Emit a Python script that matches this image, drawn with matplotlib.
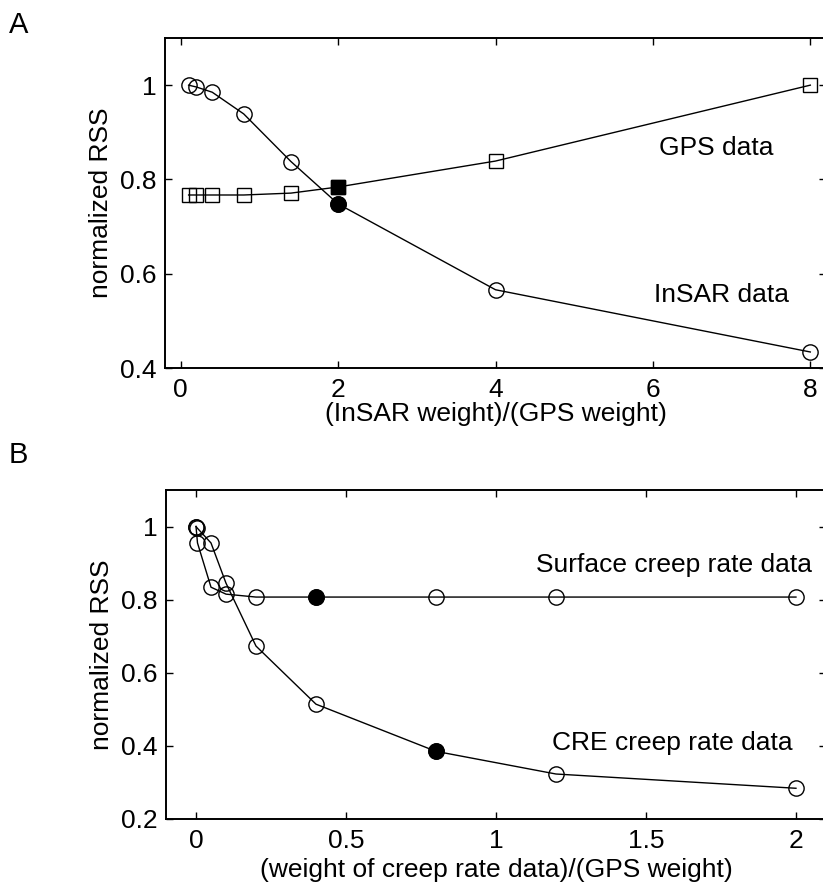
import matplotlib
matplotlib.use("Agg")
import matplotlib.pyplot as plt

plt.rcParams['font.family'] = ['Liberation Sans', 'DejaVu Sans']
plt.rcParams['font.size'] = 19

# panel A data
a_x = [0.1, 0.2, 0.4, 0.8, 1.4, 2, 4, 8]
a_insar = [1.0, 0.996, 0.985, 0.939, 0.838, 0.748, 0.566, 0.434]
a_gps = [0.767, 0.767, 0.767, 0.767, 0.771, 0.784, 0.839, 1.0]
a_pick = 2

# panel B data
b_x = [0, 0.005, 0.05, 0.1, 0.2, 0.4, 0.8, 1.2, 2]
b_surface = [1.0, 0.955, 0.834, 0.815, 0.807, 0.807, 0.807, 0.807, 0.807]
b_cre = [1.0, 0.995, 0.955, 0.845, 0.673, 0.514, 0.385, 0.323, 0.284]
b_pick_surface = 0.4
b_pick_cre = 0.8


def style(ax):
    ax.tick_params(direction='in', top=True, right=True, length=5, width=1)
    ax.tick_params(axis='x', pad=7)
    ax.tick_params(axis='y', pad=6)
    for s in ax.spines.values():
        s.set_linewidth(1.4)


def series(ax, x, y, marker, ms, pick):
    # open markers, line visible through them
    ax.plot(x, y, '-', color='k', lw=1, marker=marker, ms=ms,
            mfc='none', mec='k', mew=1, zorder=2)
    i = x.index(pick)
    ax.plot([x[i]], [y[i]], marker=marker, ms=ms, color='k', zorder=3,
            ls='none')


fig = plt.figure(figsize=(8.23, 8.90), dpi=100)

# A
ax1 = fig.add_axes([0.2005, 0.5865, 0.8032, 0.3708])
series(ax1, a_x, a_insar, 'o', 11, a_pick)
series(ax1, a_x, a_gps, 's', 9.5, a_pick)
ax1.set_xlim(-0.2, 8.2)
ax1.set_ylim(0.4, 1.1)
ax1.set_xticks([0, 2, 4, 6, 8])
ax1.set_yticks([0.4, 0.6, 0.8, 1.0])
ax1.set_yticklabels(['0.4', '0.6', '0.8', '1'])
ax1.set_xlabel('(InSAR weight)/(GPS weight)', labelpad=0)
ax1.set_ylabel('normalized RSS', labelpad=5)
ax1.text(6.08, 0.867, 'GPS data', ha='left', va='center')
ax1.text(6.02, 0.554, 'InSAR data', ha='left', va='center')
style(ax1)
fig.text(9 / 823, 1 - 25 / 890, 'A', ha='left', va='center', fontsize=21)

# B
ax2 = fig.add_axes([0.2017, 0.0798, 0.8019, 0.3697])
series(ax2, b_x, b_surface, 'o', 11, b_pick_surface)
series(ax2, b_x, b_cre, 'o', 11, b_pick_cre)
ax2.set_xlim(-0.1, 2.1)
ax2.set_ylim(0.2, 1.1)
ax2.set_xticks([0, 0.5, 1, 1.5, 2])
ax2.set_xticklabels(['0', '0.5', '1', '1.5', '2'])
ax2.set_yticks([0.2, 0.4, 0.6, 0.8, 1.0])
ax2.set_yticklabels(['0.2', '0.4', '0.6', '0.8', '1'])
ax2.set_xlabel('(weight of creep rate data)/(GPS weight)', labelpad=4)
ax2.set_ylabel('normalized RSS', labelpad=5)
ax2.text(1.133, 0.896, 'Surface creep rate data', ha='left', va='center')
ax2.text(1.187, 0.409, 'CRE creep rate data', ha='left', va='center')
style(ax2)
fig.text(9 / 823, 1 - 455 / 890, 'B', ha='left', va='center', fontsize=21)

fig.savefig('out.png', dpi=100)
